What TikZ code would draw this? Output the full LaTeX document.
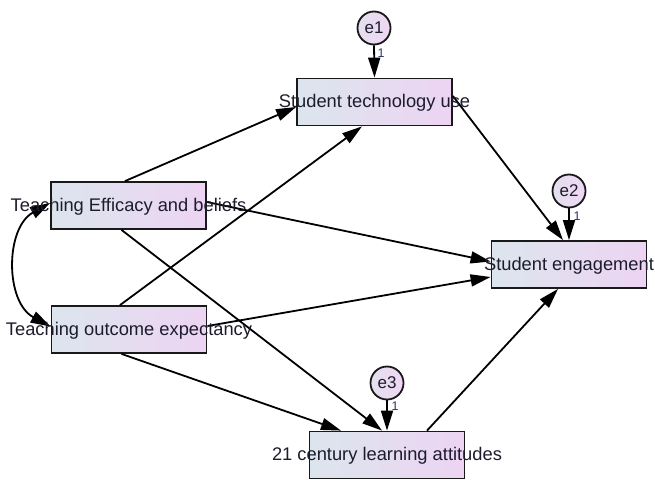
\documentclass[tikz,border=0pt]{standalone}
\usepackage{fontspec}
\setmainfont{Liberation Sans}
\usetikzlibrary{arrows.meta,calc}
\definecolor{boxL}{HTML}{DCE5EE}
\definecolor{boxR}{HTML}{EDD4F2}
\definecolor{errL}{HTML}{E4E0EE}
\definecolor{errR}{HTML}{EFD6F3}
\definecolor{txt}{HTML}{1C1C2C}
\definecolor{onecol}{HTML}{2A3560}
\begin{document}
\begin{tikzpicture}[x=1pt,y=-1pt,
  obsbox/.style={draw=black!90, line width=1.8pt, minimum width=155pt, minimum height=47pt, inner sep=0pt, left color=boxL, right color=boxR},
  errnode/.style={circle, draw=black!90, line width=1.8pt, minimum size=33pt, inner sep=0pt, left color=errL, right color=errR, text=txt, font=\fontsize{17}{19}\selectfont},
  lbl/.style={inner sep=0pt, text=txt, font=\fontsize{18.3}{21}\selectfont},
  onelbl/.style={inner sep=0pt, text=onecol, font=\fontsize{12.5}{14}\selectfont},
  pathline/.style={draw=black, line width=1.8pt, -{Triangle[length=20pt,width=12pt]}},
  covline/.style={draw=black, line width=1.8pt, {Triangle[length=20pt,width=12pt]}-{Triangle[length=20pt,width=12pt]}}
]
\useasboundingbox (0,0) rectangle (655,479);

% boxes
\node[obsbox] (STU) at (374.5,102) {};
\node[obsbox] (TE) at (128.5,205.5) {};
\node[obsbox] (TOE) at (129,329.5) {};
\node[obsbox] (SE) at (569,264.5) {};
\node[obsbox] (CLA) at (387,455) {};

% error terms
\node[errnode] (e1) at (374,28) {e1};
\node[errnode] (e2) at (569,191) {e2};
\node[errnode] (e3) at (387,383) {e3};

% paths
\draw[pathline] ($(TE.north)+(-3.5,0)$) -- ($(STU.west)+(0,5)$);
\draw[pathline] ($(TE.east)+(0,-3.5)$) -- ($(SE.west)+(0,-3)$);
\draw[pathline] ($(TE.south)+(-7,0)$) -- ($(CLA.north)+(-5,0)$);
\draw[pathline] ($(TOE.north)+(-9,0)$) -- ($(STU.south)+(-12.5,0)$);
\draw[pathline] ($(TOE.east)+(0,-3.5)$) -- ($(SE.west)+(0,12.5)$);
\draw[pathline] ($(TOE.south)+(-7.5,0)$) -- ($(CLA.north)+(-46,0)$);
\draw[pathline] ($(STU.east)+(0,-6)$) -- ($(SE.north)+(-6,0)$);
\draw[pathline] ($(CLA.north)+(40,0)$) -- ($(SE.south)+(-11,0)$);

% error arrows
\draw[pathline] (e1.south) -- (STU.north);
\draw[pathline] (e2.south) -- (SE.north);
\draw[pathline] (e3.south) -- (CLA.north);

% covariance
\coordinate (cA) at ($(TE.west)+(0,-2.5)$);
\coordinate (cB) at ($(TOE.west)+(0,-3)$);
\draw[covline] (cA) .. controls (5,228) and (5,302) .. (cB);

% regression weight labels
\node[onelbl] (w1) at (381,53) {1};
\node[onelbl] (w2) at (577,216) {1};
\node[onelbl] (w3) at (395,406) {1};

% texts
\node[lbl] (tSTU) at ($(STU.center)+(0,1)$) {Student technology use};
\node[lbl] (tTE) at ($(TE.center)+(0,1)$) {Teaching Efficacy and beliefs};
\node[lbl] (tTOE) at ($(TOE.center)+(0,1)$) {Teaching outcome expectancy};
\node[lbl] (tSE) at ($(SE.center)+(0,1)$) {Student engagement};
\node[lbl] (tCLA) at ($(CLA.center)+(0,1)$) {21 century learning attitudes};
\end{tikzpicture}
\end{document}
